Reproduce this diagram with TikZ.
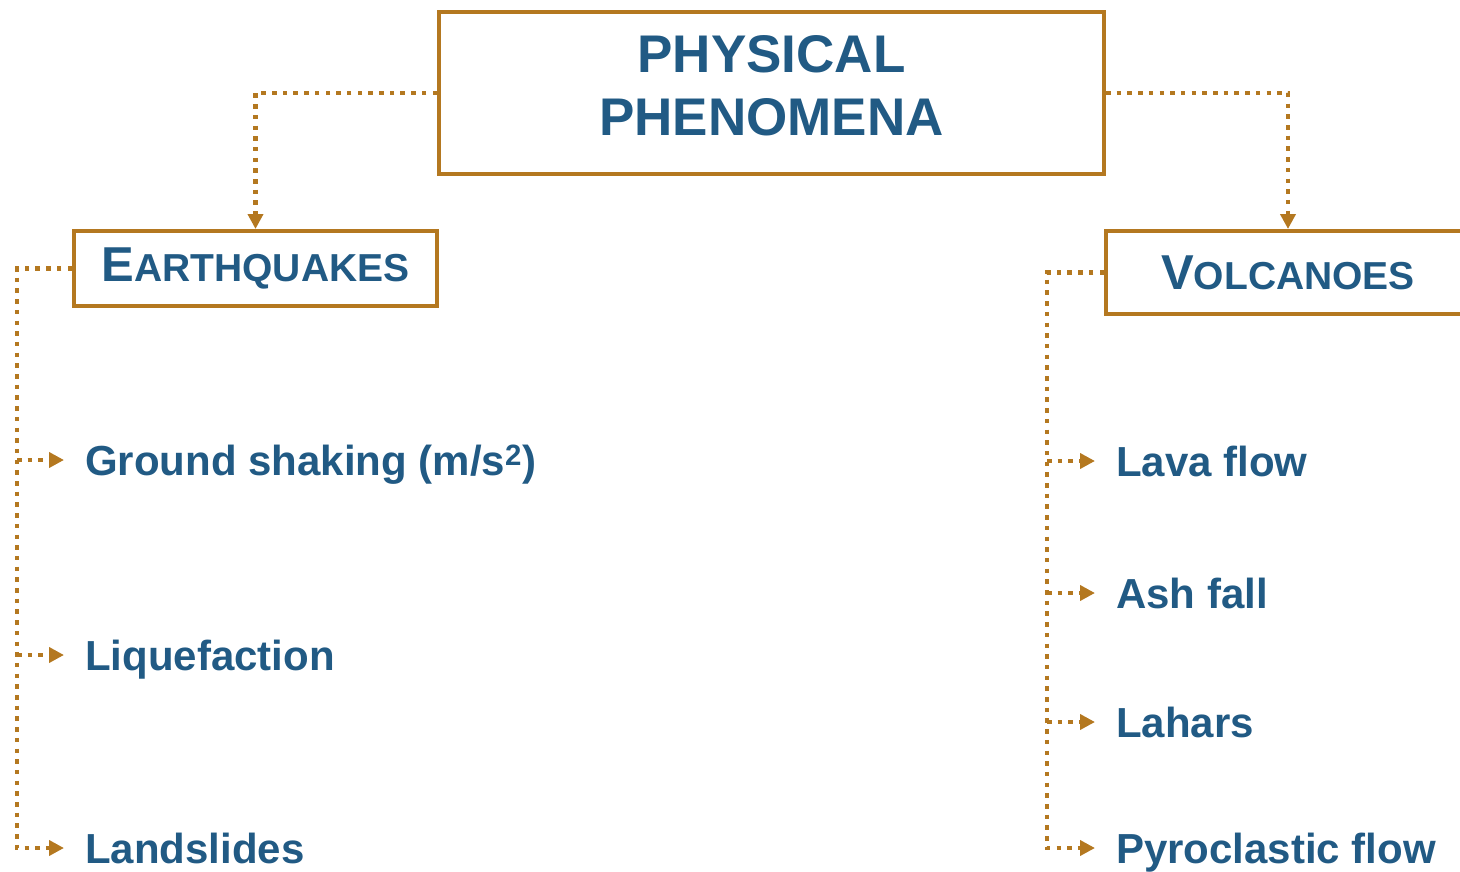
\documentclass[tikz,border=0pt]{standalone}
\usepackage{fontspec}
\setmainfont{Liberation Sans}
\usetikzlibrary{arrows.meta}
\definecolor{phenoorange}{RGB}{180,120,32}
\definecolor{phenoblue}{RGB}{33,90,132}
\tikzset{
  topbox/.style={
    rectangle, draw=phenoorange, line width=4pt, text=phenoblue,
    font=\bfseries\fontsize{53}{63}\selectfont, align=center,
    text height=101pt, text depth=17pt,
    minimum width=665pt, minimum height=162pt, inner sep=0pt
  },
  catbox/.style={
    rectangle, draw=phenoorange, line width=4pt, text=phenoblue,
    font=\bfseries, inner sep=0pt
  },
  item/.style={
    anchor=west, text=phenoblue, inner sep=0pt,
    font=\bfseries\fontsize{42}{50}\selectfont,
    text height=30pt, text depth=0pt
  },
  link/.style={draw=phenoorange, line width=4.5pt, dash pattern=on 4.5pt off 6.2pt},
  linkarrow/.style={link, -{Triangle[length=15pt,width=15pt]}},
  itemarrow/.style={linkarrow, shorten >=21pt}
}
\newcommand{\catname}[2]{{\fontsize{49}{49}\selectfont #1}{\fontsize{39}{39}\selectfont #2}}

\begin{document}
\begin{tikzpicture}[x=1pt, y=-1pt]
\useasboundingbox (0,0) rectangle (1460,871);

\node[topbox] (phys) at (771.5,93) {PHYSICAL\\PHENOMENA};

\node[catbox, minimum width=363pt, minimum height=75pt]
  (quake) at (255.5,268.5) {\catname{E}{ARTHQUAKES}};
\node[catbox, minimum width=364pt, minimum height=83pt]
  (volc) at (1288,272.5) {\catname{V}{OLCANOES}};

% earthquake effects
\node[item] (shake) at (85,460) {Ground shaking (m/s\textsuperscript{2})};
\node[item] (liq)   at (85,655) {Liquefaction};
\node[item] (slide) at (85,848) {Landslides};

% volcano effects
\node[item] (lava)  at (1116,461) {Lava flow};
\node[item] (ash)   at (1116,593) {Ash fall};
\node[item] (lahar) at (1116,722) {Lahars};
\node[item] (pyro)  at (1116,848) {Pyroclastic flow};

\coordinate (qt) at (17,0);
\coordinate (vt) at (1047,0);

\draw[linkarrow] (phys.west) -| (quake.north);
\draw[linkarrow] (phys.east) -| (volc.north);

\draw[itemarrow] (quake.west) -| (qt |- slide.west) -- (slide.west);
\draw[itemarrow] (qt |- shake.west) -- (shake.west);
\draw[itemarrow] (qt |- liq.west) -- (liq.west);

\draw[itemarrow] (volc.west) -| (vt |- pyro.west) -- (pyro.west);
\draw[itemarrow] (vt |- lava.west) -- (lava.west);
\draw[itemarrow] (vt |- ash.west) -- (ash.west);
\draw[itemarrow] (vt |- lahar.west) -- (lahar.west);
\end{tikzpicture}
\end{document}
